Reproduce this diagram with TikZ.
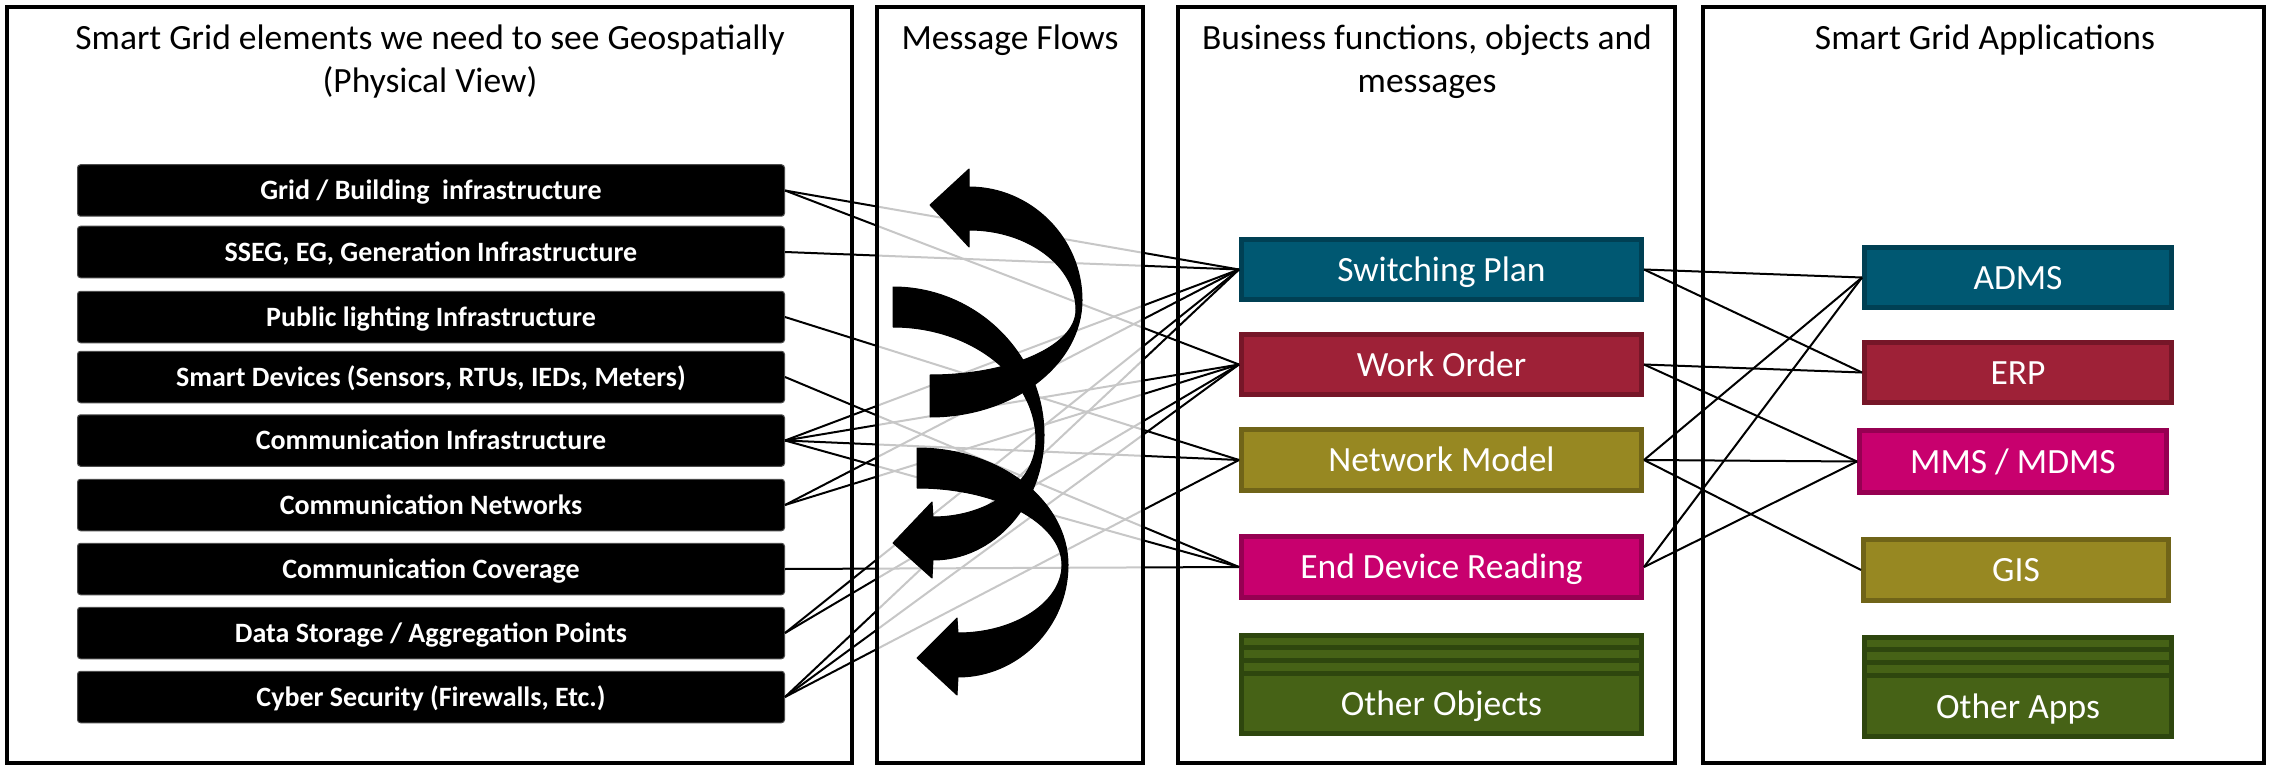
\documentclass[tikz,border=0pt]{standalone}
\usepackage{fontspec}
\setmainfont{Carlito}

\definecolor{tealF}{RGB}{0,88,114}
\definecolor{tealD}{RGB}{0,64,84}
\definecolor{wineF}{RGB}{158,33,55}
\definecolor{wineD}{RGB}{118,22,40}
\definecolor{oliveF}{RGB}{151,136,34}
\definecolor{oliveD}{RGB}{112,100,24}
\definecolor{magF}{RGB}{200,0,110}
\definecolor{magD}{RGB}{150,0,82}
\definecolor{greenF}{RGB}{70,98,22}
\definecolor{greenD}{RGB}{46,70,14}

\begin{document}
\begin{tikzpicture}[x=1pt,y=-1pt,
  panel/.style={draw=black, line width=4.5pt},
  elem/.style={fill=black, draw=black!70, line width=1pt, rounded corners=3pt,
    minimum width=707pt, minimum height=51.5pt, inner sep=0pt, text=white,
    font=\bfseries\fontsize{28}{34}\selectfont, text height=21pt, text depth=2.8pt},
  boxtext/.style={inner sep=0pt, text=white, font=\fontsize{35.5}{43}\selectfont,
    text height=26.6pt, text depth=3.5pt},
  obj/.style={boxtext, line width=5pt, minimum height=60pt},
  objbox/.style={obj, minimum width=400pt},
  appbox/.style={obj, minimum width=307pt},
  tealbox/.style={fill=tealF, draw=tealD},
  winebox/.style={fill=wineF, draw=wineD},
  olivebox/.style={fill=oliveF, draw=oliveD},
  magbox/.style={fill=magF, draw=magD},
  greenbox/.style={fill=greenF, draw=greenD},
  link/.style={draw=black, line width=2pt},
  heading/.style={font=\fontsize{35.5}{43}\selectfont, anchor=base, inner sep=0pt},
  flow/.style={fill=black, draw=black, line width=1pt, line join=round}
]
\useasboundingbox[fill=white] (0,0) rectangle (2270,770);

% column frames
\draw[panel, fill=white] (7,7) rectangle (852,763);
\draw[panel, fill=white] (1178,7) rectangle (1675,763);
\draw[panel, fill=white] (1703,7) rectangle (2264,763);

% physical elements
\node[elem] (g1) at (431,190.5) {Grid / Building~ infrastructure};
\node[elem] (g2) at (431,252) {SSEG, EG, Generation Infrastructure};
\node[elem] (g3) at (431,317) {Public lighting Infrastructure};
\node[elem] (g4) at (431,377) {Smart Devices (Sensors, RTUs, IEDs, Meters)};
\node[elem] (g5) at (431,440.5) {Communication Infrastructure};
\node[elem] (g6) at (431,505) {Communication Networks};
\node[elem] (g7) at (431,569) {Communication Coverage};
\node[elem] (g8) at (431,633) {Data Storage / Aggregation Points};
\node[elem] (g9) at (431,697) {Cyber Security (Firewalls, Etc.)};

% business objects
\node[objbox, tealbox] (sp) at (1441.5,269.5) {Switching Plan};
\node[objbox, winebox] (wo) at (1441.5,364.5) {Work Order};
\node[objbox, olivebox, minimum height=61pt] (nm) at (1441.5,460) {Network Model};
\node[objbox, magbox, minimum height=61pt] (edr) at (1441.5,567) {End Device Reading};
\node[objbox, greenbox, minimum height=98pt] (oo) at (1441.5,684.5) {};
\foreach \d in {14.5,27.5,40}
  \draw[greenD, line width=5pt] ([yshift=-\d pt]oo.north west) -- ([yshift=-\d pt]oo.north east);
\node[boxtext] (ootxt) at (1441.5,704) {Other Objects};

% applications
\node[appbox, tealbox] (adms) at (2018,277.5) {ADMS};
\node[appbox, winebox] (erp) at (2018,372.5) {ERP};
\node[appbox, magbox, minimum height=62pt] (mms) at (2013,461.5) {MMS / MDMS};
\node[appbox, olivebox, minimum width=305pt, minimum height=61pt] (gis) at (2016,570) {GIS};
\node[appbox, greenbox, minimum height=99pt] (oa) at (2018,687) {};
\foreach \d in {14.5,27.5,40}
  \draw[greenD, line width=5pt] ([yshift=-\d pt]oa.north west) -- ([yshift=-\d pt]oa.north east);
\node[boxtext] (oatxt) at (2018,707) {Other Apps};

% element -> object links
\foreach \a/\b in {g1/sp, g1/wo, g2/sp, g3/nm, g4/edr, g5/sp, g5/wo, g5/nm, g5/edr,
                   g6/sp, g6/wo, g7/edr, g8/sp, g8/wo, g9/sp, g9/wo, g9/nm}
  \draw[link] (\a.east) -- (\b.west);
% object -> application links
\foreach \a/\b in {sp/adms, sp/erp, wo/erp, wo/mms, nm/adms, nm/mms, nm/gis, edr/adms, edr/mms}
  \draw[link] (\a.east) -- (\b.west);

% message flow column: translucent frame over the links
\fill[white, fill opacity=0.78] (877,7) rectangle (1143,763);
\draw[panel] (877,7) rectangle (1143,763);

% curved flow arrows
\path[flow] (930,417) .. controls (1014,417) and (1082,364) .. (1082,300)
  .. controls (1082,238) and (1031,187) .. (969,187)
  -- (969,169) -- (930,205) -- (969,247) -- (969,230)
  .. controls (1028,230) and (1076,266) .. (1076,310)
  .. controls (1076,346) and (1010,375) .. (930,375) -- cycle;
\path[flow] (893,287) .. controls (976,287) and (1044,354) .. (1044,435)
  .. controls (1044,504) and (994,560) .. (933,560)
  -- (932,578) -- (893,543) -- (932,502) -- (933,517)
  .. controls (990,517) and (1036,482) .. (1036,440)
  .. controls (1036,378) and (972,327) .. (893,327) -- cycle;
\path[flow] (917,448) .. controls (1000,448) and (1068,501) .. (1068,565)
  .. controls (1068,627) and (1018,677) .. (958,677)
  -- (957,695) -- (917,658) -- (957,618) -- (958,633)
  .. controls (1015,633) and (1062,602) .. (1062,565)
  .. controls (1062,523) and (997,488) .. (917,488) -- cycle;

% column headings
\node[heading] (h1a) at (430,50) {Smart Grid elements we need to see Geospatially};
\node[heading] (h1b) at (430,93) {(Physical View)};
\node[heading] (h2) at (1010,50) {Message Flows};
\node[heading] (h3a) at (1427,50) {Business functions, objects and};
\node[heading] (h3b) at (1427,93) {messages};
\node[heading] (h4) at (1985,50) {Smart Grid Applications};
\end{tikzpicture}
\end{document}
